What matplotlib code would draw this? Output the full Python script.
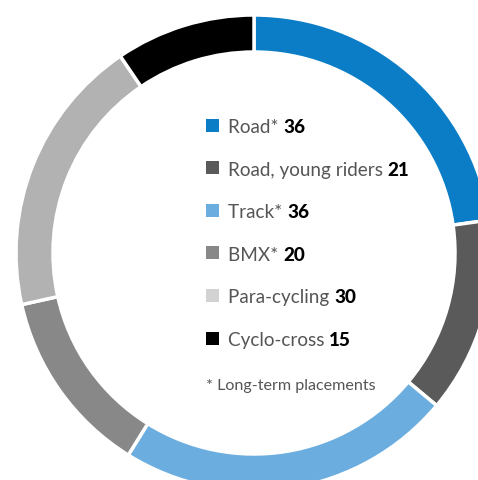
import matplotlib.pyplot as plt
from matplotlib.patches import Rectangle

# Data
labels = ["Road*", "Road, young riders", "Track*", "BMX*", "Para-cycling", "Cyclo-cross"]
values = [36, 21, 36, 20, 30, 15]
ring_colors = ["#0a7dc6", "#5a5a5a", "#6badde", "#888888", "#b2b2b2", "#000000"]
legend_colors = ["#0a7dc6", "#5a5a5a", "#6badde", "#888888", "#d2d2d2", "#000000"]
footnote = "* Long-term placements"

plt.rcParams['font.family'] = ['Lato', 'DejaVu Sans']

fig = plt.figure(figsize=(4.78, 4.81), dpi=100)
ax = fig.add_axes([0, 0, 1, 1])
# one data unit = one pixel, ring centre at (254, 254) from top-left
ax.set_aspect('equal')
ax.axis('off')

ax.pie(values, colors=ring_colors, startangle=90, counterclock=False,
       radius=238, wedgeprops=dict(width=37, edgecolor='white', linewidth=2.5))
ax.set_xlim(-254, 478 - 254)
ax.set_ylim(-(481 - 254), 254)

# Legend in the centre
x_sq = 206 - 254
x_txt = 228 - 254
row0 = 126
step = 42.6
for i, (lab, val, col) in enumerate(zip(labels, values, legend_colors)):
    yc = 254 - (row0 + i * step)
    ax.add_patch(Rectangle((x_sq, yc - 6.5), 13, 13, facecolor=col, edgecolor='none'))
    t = ax.text(x_txt, yc - 7, lab + " ", fontsize=13.6, color="#555555",
                va='baseline', ha='left')
    ax.annotate(str(val), xy=(1, 0), xycoords=t, xytext=(0, 0),
                textcoords='offset points', fontsize=13.6, fontweight='black',
                color='black', va='bottom', ha='left')

ax.text(x_sq, 254 - 390, footnote, fontsize=11.6, color="#555555",
        va='baseline', ha='left')

fig.savefig("out.png", dpi=100)
